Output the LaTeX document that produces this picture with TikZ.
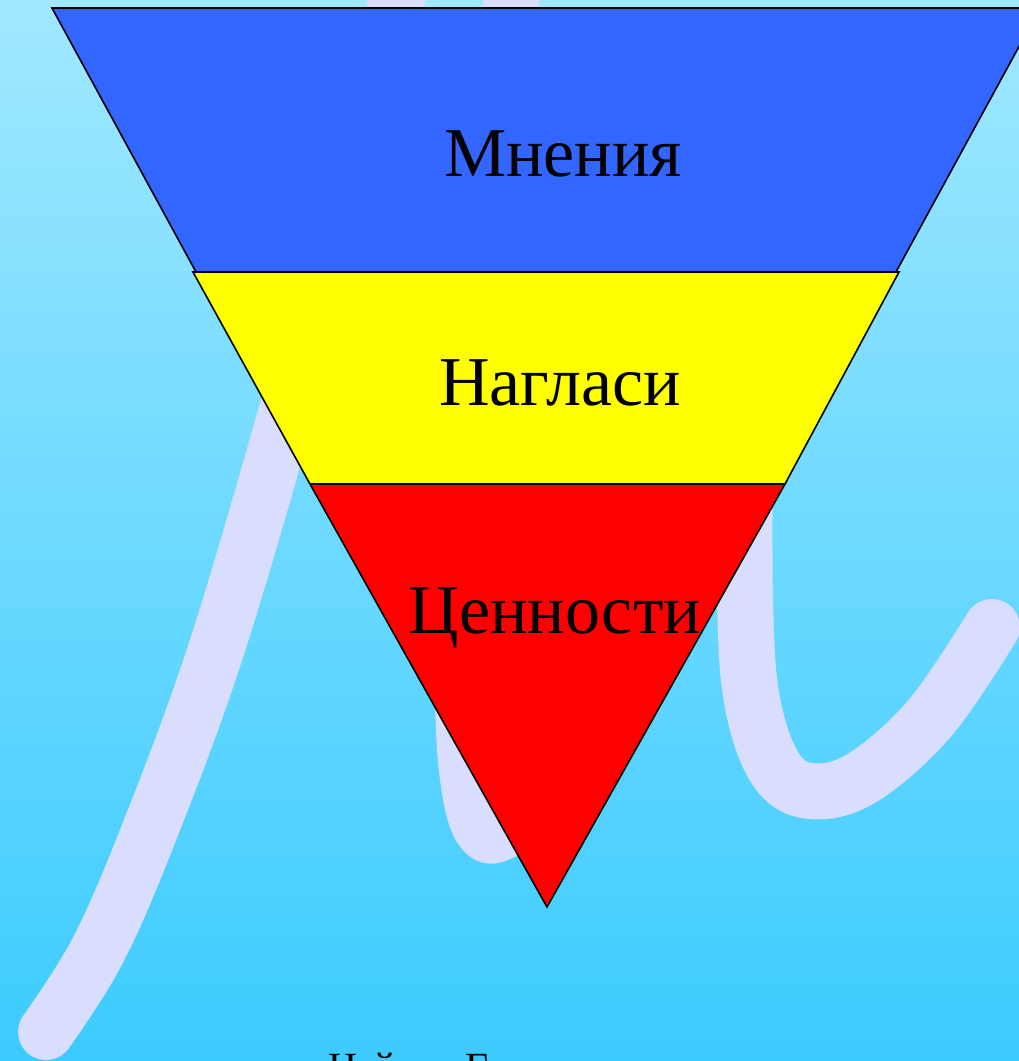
\documentclass[tikz,border=0pt]{standalone}
\usepackage{fontspec}
\setmainfont{Liberation Serif}
\definecolor{cielo}{HTML}{A0E8FF}
\definecolor{cielofondo}{HTML}{3CCBFF}
\definecolor{lavanda}{HTML}{D9DEFF}
\definecolor{mnenia}{HTML}{3366FF}
\definecolor{naglasi}{HTML}{FFFF00}
\definecolor{cennosti}{HTML}{FF0000}
\usetikzlibrary{calc, positioning}

\tikzset{
  pencil/.style={draw=lavanda, line width=56pt, line cap=round, line join=round},
  layerbox/.style={draw=black, line width=1.6pt, line join=miter},
  layertext/.style={anchor=base, inner sep=0pt, font=\fontsize{70}{84}\selectfont}
}

\begin{document}
\begin{tikzpicture}[x=1pt, y=-1pt]
\useasboundingbox (0,0) rectangle (1019,1061);
\clip (0,0) rectangle (1019,1061);
\shade[top color=cielo, bottom color=cielofondo] (0,0) rectangle (1019,1061);

% handwritten letter behind the funnel
\draw[pencil] plot[smooth, tension=0.6] coordinates
  {(46,1032) (98,950) (150,830) (216,650) (290,400) (350,180) (402,-20)};
\draw[pencil] plot[smooth, tension=0.6] coordinates
  {(514,-20) (480,300) (465,600) (466,760) (488,835) (540,800)};
\draw[pencil] plot[smooth, tension=0.6] coordinates
  {(745,420) (745,600) (752,700) (775,768) (810,791) (862,778) (930,718) (992,627)};

% funnel
\coordinate (b1) at (52,8);   \coordinate (b2) at (1040,8);
\coordinate (b3) at (896,272); \coordinate (b4) at (196,272);
\coordinate (y1) at (193,272); \coordinate (y2) at (899,272);
\coordinate (y3) at (785,484); \coordinate (y4) at (310,484);
\coordinate (apex) at (547,907);

\filldraw[layerbox, fill=mnenia] (b1) -- (b2) -- (b3) -- (b4) -- cycle;
\filldraw[layerbox, fill=naglasi] (y1) -- (y2) -- (y3) -- (y4) -- cycle;
\filldraw[layerbox, fill=cennosti] (y4) -- (y3) -- (apex) -- cycle;

\node[layertext] (mn) at (563,176) {Мнения};
\node[layertext] (ng) at (560,405) {Нагласи};
\node[layertext] (cn) at (555,633) {Ценности};

\node[anchor=base west, inner sep=0pt, font=\fontsize{40}{48}\selectfont]
  (author) at (328,1080) {Найден Георгиев};
\end{tikzpicture}
\end{document}
